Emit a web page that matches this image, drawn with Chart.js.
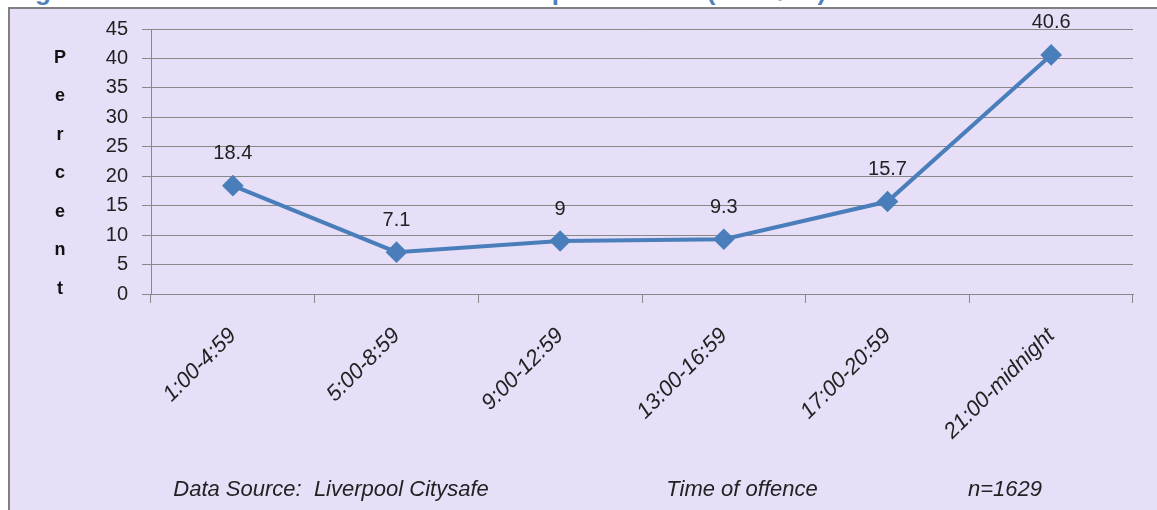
<!DOCTYPE html>
<html>
<head>
<meta charset="utf-8">
<script src="https://cdn.jsdelivr.net/npm/chart.js@4.4.1/dist/chart.umd.min.js"></script>
<style>
  html, body { margin: 0; padding: 0; background: #fff; }
  #wrap { position: relative; width: 1157px; height: 510px; overflow: hidden; }
  #titulo {
    position: absolute; left: 10px; top: -24px;
    font: bold 26px "Liberation Sans", Arial, sans-serif; color: #4F81BD;
    white-space: nowrap; letter-spacing: 1px;
  }
  #caja {
    position: absolute; left: 8px; top: 7px; width: 1160px; height: 520px;
    background: #E6DFF7; border: 2px solid #808080; box-sizing: border-box;
  }
  #grafico { position: absolute; left: 0; top: 0; }
</style>
</head>
<body>
<div id="wrap">
  <div id="titulo">Figure 30: Time of violent offences from police data (2008/09)</div>
  <div id="caja"></div>
  <canvas id="grafico" width="1157" height="510"></canvas>
</div>
<script>
// datos
const franjas = ['1:00-4:59', '5:00-8:59', '9:00-12:59', '13:00-16:59', '17:00-20:59', '21:00-midnight'];
const porcentajes = [18.4, 7.1, 9, 9.3, 15.7, 40.6];
const tituloEjeY = 'Percent';
const notasPie = ['Data Source:  Liverpool Citysafe', 'Time of offence', 'n=1629'];

const fuente = '"Liberation Sans Narrow", "Liberation Sans", Arial, sans-serif';

// etiquetas de valor encima de cada punto + textos sueltos
const extras = {
  id: 'extras',
  afterDatasetsDraw(chart) {
    const ctx = chart.ctx;
    const meta = chart.getDatasetMeta(0);
    ctx.save();
    ctx.fillStyle = '#222';
    ctx.font = '20px ' + fuente;
    ctx.textAlign = 'center';
    ctx.textBaseline = 'bottom';
    meta.data.forEach((p, i) => {
      ctx.fillText(String(porcentajes[i]), p.x, p.y - 22);
    });

    // "Percent" en vertical, letra por letra
    ctx.font = 'bold 18px ' + fuente;
    ctx.fillStyle = '#111';
    ctx.textBaseline = 'middle';
    tituloEjeY.split('').forEach((l, i) => {
      ctx.fillText(l, 60, 58 + i * 38.5);
    });

    // notas al pie
    ctx.font = 'italic 22px ' + fuente;
    ctx.fillStyle = '#222';
    const xs = [331, 742, 1005];
    notasPie.forEach((t, i) => ctx.fillText(t, xs[i], 490));
    ctx.restore();
  }
};

new Chart(document.getElementById('grafico'), {
  type: 'line',
  data: {
    labels: franjas,
    datasets: [{
      data: porcentajes,
      borderColor: '#4A7EBB',
      backgroundColor: '#4A7EBB',
      borderWidth: 4,
      pointStyle: 'rectRot',
      pointRadius: 8,
      pointHoverRadius: 8,
      tension: 0,
      fill: false
    }]
  },
  options: {
    responsive: false,
    animation: false,
    layout: { padding: { left: 8, top: 29, right: 24, bottom: 0 } },
    plugins: {
      legend: { display: false },
      tooltip: { enabled: false }
    },
    scales: {
      x: {
        offset: true,
        grid: { offset: true, drawOnChartArea: false, drawTicks: true, tickLength: 9, color: '#888' },
        border: { color: '#888', width: 1 },
        ticks: {
          minRotation: 45, maxRotation: 45, padding: 20,
          color: '#222',
          font: { family: fuente, size: 22, style: 'italic' }
        },
        afterFit(s) { s.height = 216; }
      },
      y: {
        min: 0, max: 45,
        grid: { color: '#888', tickLength: 9, lineWidth: 1 },
        border: { color: '#888', width: 1 },
        ticks: {
          stepSize: 5, padding: 14, color: '#222',
          font: { family: fuente, size: 20 }
        },
        afterFit(s) { s.width = 143; }
      }
    }
  },
  plugins: [extras]
});
</script>
</body>
</html>
